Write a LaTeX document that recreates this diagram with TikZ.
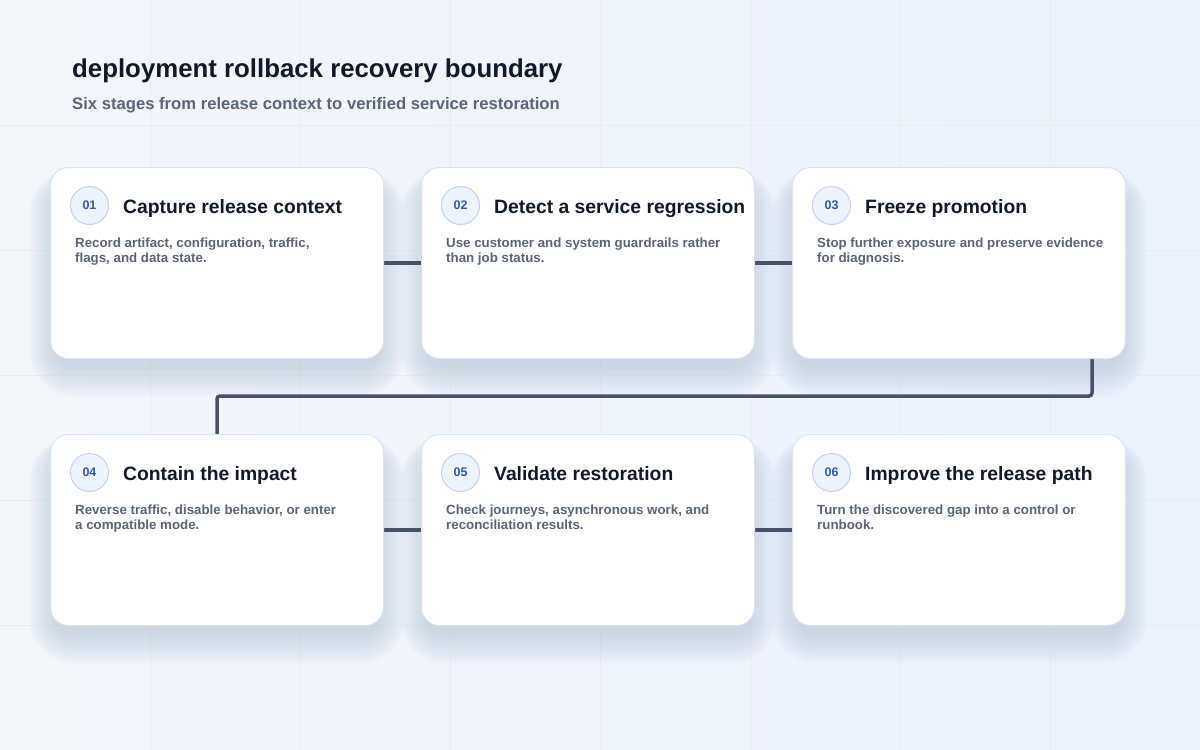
\documentclass[tikz,border=0pt]{standalone}
\usepackage{fontspec}
\setmainfont{Liberation Sans}
\usetikzlibrary{calc}
\definecolor{bgL}{HTML}{F4F6FA}
\definecolor{bgR}{HTML}{EDF2FB}
\definecolor{gridc}{HTML}{E8ECF3}
\definecolor{cardborder}{HTML}{DCE3EE}
\definecolor{shadowc}{HTML}{5B6B85}
\definecolor{connc}{HTML}{465366}
\definecolor{titlec}{HTML}{111827}
\definecolor{subc}{HTML}{5B6577}
\definecolor{descc}{HTML}{5A6475}
\definecolor{badgefill}{HTML}{EEF3FD}
\definecolor{badgeline}{HTML}{C5D2EE}
\definecolor{badgetext}{HTML}{3556B0}
\pgfdeclarelayer{bg}
\pgfdeclarelayer{shadow}
\pgfdeclarelayer{conn}
\pgfsetlayers{bg,shadow,conn,main}
\tikzset{
  card/.style={draw=cardborder, line width=1pt, fill=white, rounded corners=18pt,
    minimum width=333pt, minimum height=191pt, anchor=north west, inner sep=0pt},
  badge/.style={circle, draw=badgeline, line width=1pt, fill=badgefill, minimum size=38pt,
    inner sep=0pt, text=badgetext, font=\fontsize{12.5}{12}\selectfont\bfseries},
  ctitle/.style={anchor=base west, inner sep=0pt, text=titlec, font=\fontsize{19.3}{22}\selectfont\bfseries},
  cdesc/.style={anchor=north west, inner sep=0pt, text=descc, align=left,
    font=\fontsize{13.3}{15}\selectfont\bfseries},
  conn/.style={draw=connc, line width=3.5pt, rounded corners=3pt},
}
\newcommand\cardshadow[1]{%
  \begin{pgfonlayer}{shadow}
  \foreach \i in {0,...,23}{
    \fill[shadowc, opacity=0.0068, rounded corners=18pt+1.2*\i pt]
      ($(#1.north west)+(-1.1*\i+4,-0.7*\i+18)$) rectangle ($(#1.south east)+(1.1*\i-4,1.3*\i+8)$);
  }
  \end{pgfonlayer}}
\newcommand\stage[6]{% name, x, y, number, title, desc
  \node[card] (#1) at (#2,#3) {};
  \cardshadow{#1}
  \node[badge] (#1b) at ($(#1.north west)+(39.5,38.5)$) {#4};
  \node[ctitle] (#1t) at ($(#1.north west)+(73,46)$) {#5};
  \node[cdesc] (#1d) at ($(#1.north west)+(25,71)$) {#6};
}
\begin{document}
\begin{tikzpicture}[x=1pt,y=-1pt]
\useasboundingbox (0,0) rectangle (1200,750);
\begin{pgfonlayer}{bg}
\shade[left color=bgL, right color=bgR] (0,0) rectangle (1200,750);
\foreach \x in {150,300,...,1050} \draw[gridc, line width=0.8pt] (\x,0) -- (\x,750);
\foreach \y in {125,250,...,625} \draw[gridc, line width=0.8pt] (0,\y) -- (1200,\y);
\end{pgfonlayer}

\node[anchor=base west, inner sep=0pt, text=titlec, font=\fontsize{25.8}{28}\selectfont\bfseries] (title) at (72,77) {deployment rollback recovery boundary};
\node[anchor=base west, inner sep=0pt, text=subc, font=\fontsize{16.65}{18}\selectfont\bfseries] (subtitle) at (72,109) {Six stages from release context to verified service restoration};

\stage{c1}{50}{167}{01}{Capture release context}{Record artifact, configuration, traffic,\\flags, and data state.}
\stage{c2}{421}{167}{02}{Detect a service regression}{Use customer and system guardrails rather\\than job status.}
\stage{c3}{792}{167}{03}{Freeze promotion}{Stop further exposure and preserve evidence\\for diagnosis.}
\stage{c4}{50}{434}{04}{Contain the impact}{Reverse traffic, disable behavior, or enter\\a compatible mode.}
\stage{c5}{421}{434}{05}{Validate restoration}{Check journeys, asynchronous work, and\\reconciliation results.}
\stage{c6}{792}{434}{06}{Improve the release path}{Turn the discovered gap into a control or\\runbook.}

\begin{pgfonlayer}{conn}
\draw[conn] (c1.east) -- (c2.west);
\draw[conn] (c2.east) -- (c3.west);
\draw[conn] ($(c3.south east)+(-34,0)$) |- ($(c4.north)+(0,-38)$) -- (c4.north);
\draw[conn] (c4.east) -- (c5.west);
\draw[conn] (c5.east) -- (c6.west);
\end{pgfonlayer}
\end{tikzpicture}
\end{document}
